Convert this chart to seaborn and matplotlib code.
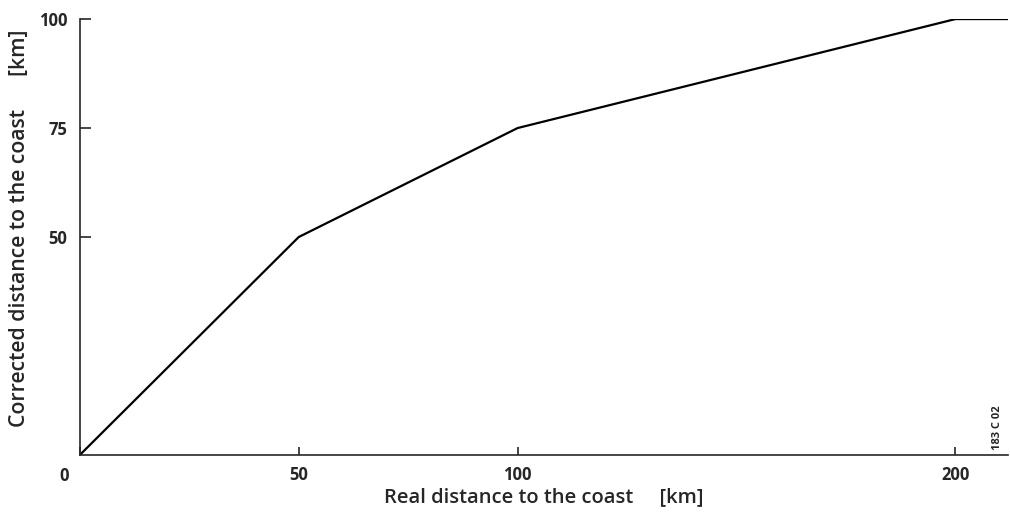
import pandas as pd
import seaborn as sns
import matplotlib.pyplot as plt

# Data
real_km = [0, 50, 100, 200, 212]
corrected_km = [0, 50, 75, 100, 100]
x_ticks = [0, 50, 100, 200]
x_labels = ["", "50", "100", "200"]
y_ticks = [50, 75, 100]

sns.set_style("ticks")
plt.rcParams['font.family'] = ['Open Sans', 'DejaVu Sans']

df = pd.DataFrame({"real": real_km, "corrected": corrected_km})

fig = plt.figure(figsize=(10.1, 5.15), dpi=100)
ax = fig.add_axes([0.079, 0.1165, 0.919, 0.8465])

sns.lineplot(data=df, x="real", y="corrected", ax=ax, color="black", linewidth=1.6)

ax.set_xlim(0, 212)
ax.set_ylim(0, 100)
ax.set_xticks(x_ticks)
ax.set_yticks(y_ticks)
ax.set_xticklabels(x_labels, fontsize=12, fontweight="bold")
ax.set_yticklabels([str(t) for t in y_ticks], fontsize=12, fontweight="bold")
ax.tick_params(axis="y", direction="in", length=8, width=1.2, pad=9)
ax.tick_params(axis="x", direction="in", length=6, width=1.2, pad=8)

# the shared "0" sits below-left of the origin
ax.annotate("0", xy=(0, 0), xytext=(-11, -15), textcoords="offset points",
            fontsize=12, fontweight="bold", ha="center", va="center")

for side in ["top", "right"]:
    ax.spines[side].set_visible(False)
for side in ["left", "bottom"]:
    ax.spines[side].set_linewidth(1.2)

ax.set_xlabel("Real distance to the coast     [km]", fontsize=14.5, fontweight="semibold", labelpad=2)
ax.set_ylabel("Corrected distance to the coast      [km]", fontsize=15.3, fontweight="semibold")
ax.yaxis.set_label_coords(-0.054, 0.52)

fig.text(0.988, 0.17, "183 C 02", rotation=90, fontsize=8, fontweight="bold", ha="center", va="center")

fig.savefig("out.png", dpi=100)
